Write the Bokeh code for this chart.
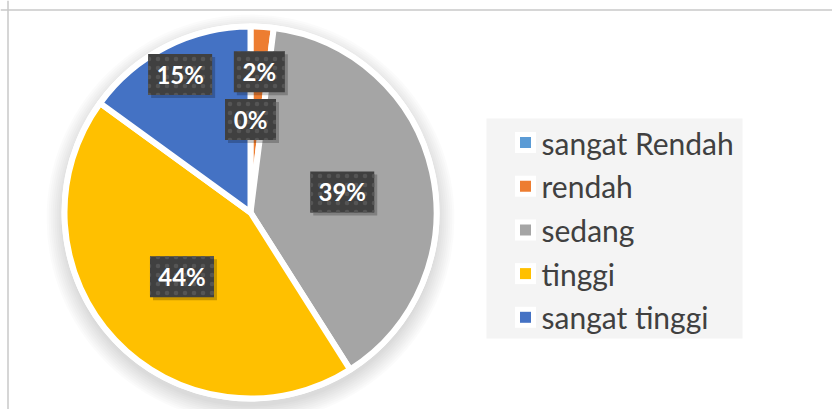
import numpy as np
from bokeh.plotting import figure
from bokeh.models import Range1d, Span, ColumnDataSource
from bokeh.core.properties import value
from bokeh.embed import file_html
from bokeh.resources import INLINE

# ---- data ----
categories = ["sangat Rendah", "rendah", "sedang", "tinggi", "sangat tinggi"]
percentages = [0, 2, 39, 44, 15]
colors = ["#5B9BD5", "#ED7D31", "#A5A5A5", "#FFC000", "#4472C4"]
label_texts = ["0%", "2%", "39%", "44%", "15%"]

# ---- layout (pixel-like data units) ----
W, H = 832, 409
cx, cy, R = 250, 197, 186
label_dist = [93, 141, 94, 94, 155]

p = figure(width=W, height=H, output_backend="svg", toolbar_location=None,
           x_range=Range1d(0, W), y_range=Range1d(0, H),
           x_axis_type=None, y_axis_type=None, min_border=0)
p.grid.visible = False
p.outline_line_color = None
p.background_fill_color = "white"
p.border_fill_color = "white"

# chart border (top and left visible)
p.add_layout(Span(location=7.5, dimension="height", line_color="#c8c8c8", line_width=1.5))
p.add_layout(Span(location=H - 9.5, dimension="width", line_color="#c8c8c8", line_width=1.5))

# soft shadow around pie
for dr in range(18, 0, -2):
    p.circle(x=[cx], y=[cy - 6], radius=R + dr, fill_color="black",
             fill_alpha=0.016, line_color=None)

vals = np.array(percentages, dtype=float)
frac = vals / vals.sum()
cum = np.concatenate([[0], np.cumsum(frac)])
start = np.pi / 2 - cum[:-1] * 2 * np.pi
end = np.pi / 2 - cum[1:] * 2 * np.pi
mid = (start + end) / 2

src = ColumnDataSource(dict(start=start, end=end, color=colors))
p.wedge(x=cx, y=cy, radius=R, start_angle="start", end_angle="end",
        direction="clock", fill_color="color", line_color="white",
        line_width=6, line_join="round", source=src)

# data labels
lx = cx + np.array(label_dist) * np.cos(mid)
ly = cy + np.array(label_dist) * np.sin(mid)
bw = [51 if len(t) == 2 else 64 for t in label_texts]
lsrc = ColumnDataSource(dict(x=lx, y=ly, sx=lx + 3, sy=ly - 3, w=bw, t=label_texts))
p.rect(x="sx", y="sy", width="w", height=41, source=lsrc,
       fill_color="black", fill_alpha=0.22, line_color=None)
p.rect(x="x", y="y", width="w", height=41, source=lsrc,
       fill_color="#404040", line_color=None,
       hatch_pattern="dot", hatch_color="#555555", hatch_scale=9, hatch_weight=3)
p.text(x="x", y="y", text="t", source=lsrc, text_align="center",
       text_baseline="middle", text_color="white", text_font=value("Lato"),
       text_font_style="bold", text_font_size="24px")

# legend
p.quad(left=[486], right=[742], bottom=[71], top=[291],
       fill_color="#f4f4f4", line_color=None)
n = len(categories)
leg_y = 267 - np.arange(n) * 43.7
legsrc = ColumnDataSource(dict(x=[525] * n, y=leg_y, tx=[541] * n, c=colors, t=categories))
p.scatter(x="x", y="y", marker="square", size=21, fill_color="white",
          line_color=None, source=legsrc)
p.scatter(x="x", y="y", marker="square", size=11, fill_color="c",
          line_color=None, source=legsrc)
p.text(x="tx", y="y", text="t", source=legsrc, text_align="left",
       text_baseline="middle", text_color="#404040", text_font=value("Lato"),
       text_font_size="30px")

open("out.html", "w").write(file_html(p, INLINE))
